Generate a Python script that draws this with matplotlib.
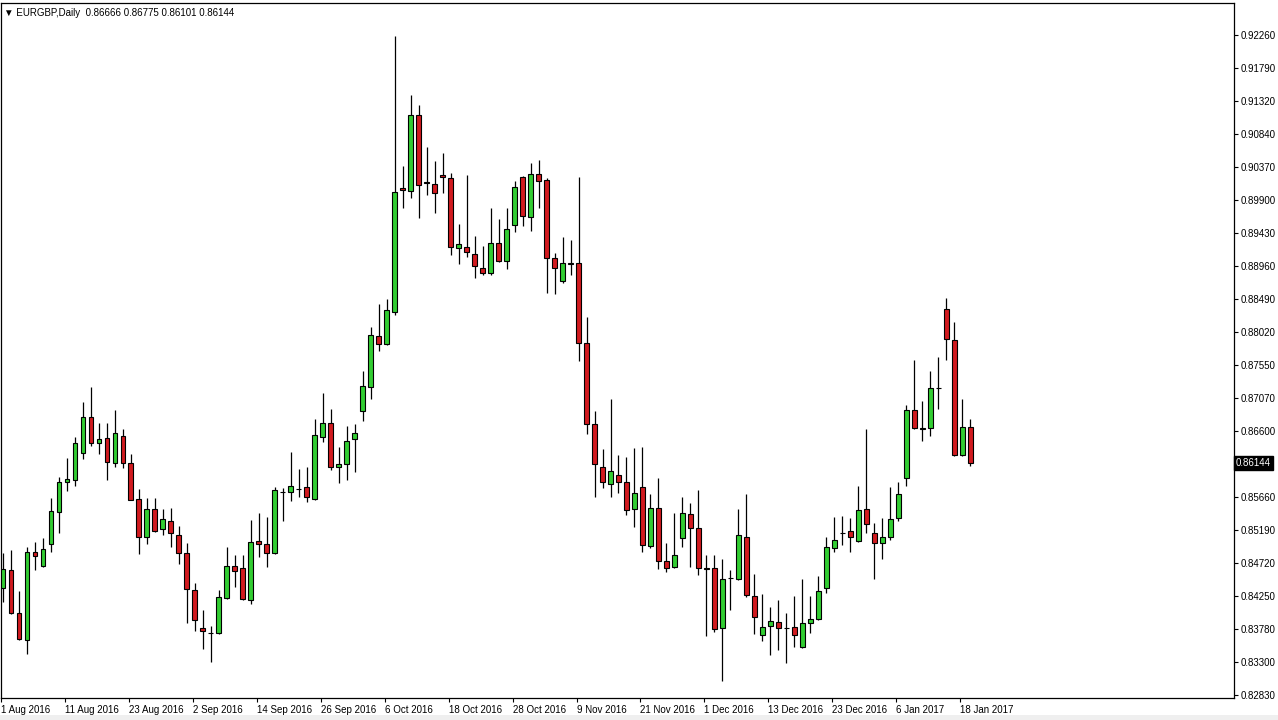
import matplotlib
matplotlib.use("Agg")
import matplotlib.pyplot as plt
from matplotlib.patches import Rectangle
import numpy as np

plt.rcParams["font.family"] = ["Liberation Sans", "DejaVu Sans"]

# ---- data (EURGBP daily, 1 Aug 2016 .. 19 Jan 2017) ----
opens = [
    .84364, .84613, .83999, .83617, .84870, .84670, .84989, .85441, .85870, .85899,
    .86284, .86799, .86427, .86499, .86141, .86527, .86141, .85627, .85084, .85484,
    .85199, .85313, .85113, .84856, .84327, .83784, .83720, .83713, .84221, .84670,
    .84641, .84193, .85027, .84984, .84864, .85735, .85727, .85770, .85799, .85627,
    .86524, .86713, .86084, .86127, .86484, .86884, .87227, .87956, .87841, .88299,
    .90070, .90027, .91113, .90157, .90127, .90256, .90213, .89213, .89227, .89127,
    .88927, .88856, .89284, .89027, .89541, .90227, .89656, .90270, .90184, .89070,
    .88741, .88989, .88999, .87856, .86699, .86084, .85841, .85970, .85870, .85484,
    .85799, .84956, .85499, .84741, .84656, .85070, .85413, .85213, .84641, .84641,
    .83784, .84499, .84484, .85084, .84241, .83684, .83813, .83870, .83789, .83799,
    .83521, .83856, .83913, .84356, .84927, .85141, .85170, .85027, .85484, .85141,
    .84999, .85084, .85356, .85927, .86899, .86641, .86641, .87213, .88341, .87899,
    .86256, .86666]

highs = [
    .84864, .84903, .84317, .84950, .85024, .85079, .85650, .85950, .86217, .86513,
    .87017, .87236, .86713, .86713, .86899, .86627, .86270, .85770, .85650, .85650,
    .85484, .85503, .85250, .85004, .84436, .84050, .83821, .84331, .84950, .84836,
    .84836, .85331, .85427, .85379, .85799, .85784, .86307, .86060, .86084, .86770,
    .87141, .86913, .86379, .86674, .86699, .87460, .88089, .88413, .88493, .92246,
    .90389, .91403, .91256, .90656, .90460, .90574, .90284, .89560, .90256, .89386,
    .89241, .89784, .89627, .89784, .90170, .90240, .90427, .90474, .90213, .89141,
    .89370, .89327, .90227, .88227, .86884, .86341, .87064, .86256, .86227, .86356,
    .86379, .85699, .85927, .84999, .85427, .85656, .85570, .85760, .84827, .84827,
    .84770, .84613, .85484, .85699, .84556, .84270, .84084, .84184, .83999, .84246,
    .84484, .84246, .84531, .85084, .85370, .85384, .85356, .85813, .86627, .85284,
    .85356, .85799, .85870, .86970, .87613, .87027, .87456, .87656, .88503, .88156,
    .87056, .86775]

lows = [
    .84164, .83989, .83617, .83424, .84617, .84660, .84879, .85150, .85750, .85821,
    .86199, .86384, .86270, .85899, .86084, .86070, .85613, .84841, .84984, .85164,
    .85113, .84950, .84707, .83856, .83741, .83493, .83307, .83700, .84199, .84379,
    .84190, .84127, .84807, .84664, .84841, .85321, .85607, .85656, .85593, .85613,
    .86441, .86053, .85864, .85903, .86021, .86750, .87064, .87750, .87830, .88256,
    .89784, .89936, .89650, .89979, .89721, .89999, .89113, .88984, .89084, .88784,
    .88827, .88827, .89020, .88913, .89441, .89527, .89456, .89784, .88570, .88556,
    .88713, .88827, .87607, .86556, .85656, .85784, .85664, .85713, .85403, .85236,
    .84870, .84927, .84627, .84584, .84641, .84950, .84656, .84541, .83670, .83727,
    .83027, .84041, .84470, .84227, .83699, .83599, .83399, .83470, .83293, .83521,
    .83510, .83721, .83900, .84296, .84870, .84970, .84870, .85020, .85141, .84484,
    .84770, .85041, .85313, .85813, .86627, .86456, .86527, .86913, .87613, .86241,
    .86240, .86101]

closes = [
    .84627, .83999, .83627, .84870, .84824, .84913, .85456, .85870, .85913, .86427,
    .86799, .86427, .86484, .86156, .86570, .86141, .85621, .85084, .85484, .85179,
    .85341, .85141, .84864, .84350, .83899, .83741, .83713, .84227, .84670, .84607,
    .84199, .85013, .84984, .84864, .85756, .85727, .85813, .85777, .85656, .86541,
    .86713, .86084, .86127, .86456, .86570, .87241, .87970, .87841, .88327, .90013,
    .90041, .91113, .90113, .90150, .89999, .90227, .89227, .89270, .89156, .88953,
    .88856, .89284, .89027, .89484, .90084, .89670, .90270, .90170, .89070, .88927,
    .88999, .88996, .87856, .86699, .86127, .85870, .86027, .85870, .85474, .85713,
    .84970, .85499, .84741, .84641, .84827, .85427, .85213, .84641, .84634, .83770,
    .84484, .84506, .85113, .84256, .83941, .83799, .83884, .83784, .83782, .83693,
    .83856, .83913, .84321, .84941, .85041, .85148, .85093, .85470, .85270, .84999,
    .85084, .85341, .85699, .86899, .86641, .86634, .87213, .87220, .87913, .86256,
    .86656, .86144]

date_labels = ["1 Aug 2016", "11 Aug 2016", "23 Aug 2016", "2 Sep 2016", "14 Sep 2016",
               "26 Sep 2016", "6 Oct 2016", "18 Oct 2016", "28 Oct 2016", "9 Nov 2016",
               "21 Nov 2016", "1 Dec 2016", "13 Dec 2016", "23 Dec 2016", "6 Jan 2017",
               "18 Jan 2017"]
label_step = 8  # one date label every 8 bars

price_ticks = [0.92260, 0.91790, 0.91320, 0.90840, 0.90370, 0.89900, 0.89430, 0.88960,
               0.88490, 0.88020, 0.87550, 0.87070, 0.86600, 0.85660, 0.85190, 0.84720,
               0.84250, 0.83780, 0.83300, 0.82830]

symbol = "EURGBP,Daily"
last_bar = (0.86666, 0.86775, 0.86101, 0.86144)

# ---- figure ----
W, H, DPI = 1278, 720, 100
fig = plt.figure(figsize=(W / DPI, H / DPI), dpi=DPI, facecolor="white")

left_px, right_px, top_px, bottom_px = 0.5, 1234, 3, 698
ax = fig.add_axes([left_px / W, 1 - bottom_px / H,
                   (right_px - left_px) / W, (bottom_px - top_px) / H])
ax.set_facecolor("white")

GREEN = "#32CD32"
RED = "#D11A1F"
n = len(opens)
x = np.arange(n)
o = np.array(opens); c = np.array(closes); h = np.array(highs); l = np.array(lows)

ax.vlines(x, l, h, color="black", linewidth=0.9, zorder=2)
body_w = 0.6
for i in range(n):
    bull = c[i] >= o[i]
    lo = min(o[i], c[i]); hi = max(o[i], c[i])
    ax.add_patch(Rectangle((x[i] - body_w / 2, lo), body_w, hi - lo,
                           facecolor=GREEN if bull else RED, edgecolor="black",
                           linewidth=0.8, zorder=3))

# x range: bar i sits at pixel 2 + 8 i
ax.set_xlim(-0.25 - left_px / 8, (right_px - 2) / 8)
ax.set_ylim(0.82789, 0.92717)

# x ticks (date labels)
xt = [i * label_step - 0.25 for i in range(len(date_labels))]
ax.set_xticks(xt)
ax.set_xticklabels(date_labels, ha="left", fontsize=7)
ax.tick_params(axis="x", length=3, width=0.8, pad=2, direction="out")

# y ticks on the right
ax.yaxis.tick_right()
ax.set_yticks(price_ticks)
ax.set_yticklabels([f"{v:.5f}" for v in price_ticks], fontsize=7)
ax.tick_params(axis="y", length=3, width=0.8, pad=2, direction="out")

for s in ax.spines.values():
    s.set_color("black")
    s.set_linewidth(0.9)

# current price marker
ax.text(1.0015, last_bar[3], f"{last_bar[3]:.5f}", transform=ax.get_yaxis_transform(),
        ha="left", va="center", fontsize=7, color="white",
        bbox=dict(boxstyle="square,pad=0.2", facecolor="black", edgecolor="black"))

# header text
ax.text(0.003, 0.985, "\u25BC " + symbol + "  " + " ".join(f"{v:.5f}" for v in last_bar),
        transform=ax.transAxes, ha="left", va="center", fontsize=7, color="black")

# light grey frame strip at the bottom
fig.patches.append(Rectangle((0, 0), 1, 5 / H, transform=fig.transFigure,
                             facecolor="#EFEFEF", edgecolor="none"))

fig.savefig("out.png", dpi=DPI, facecolor="white")
